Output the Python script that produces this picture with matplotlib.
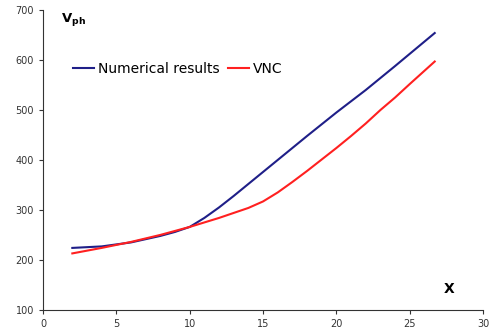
import matplotlib
matplotlib.use('Agg')
import matplotlib.pyplot as plt

# Numerical results
x_num = [2, 4, 6, 8, 9, 10, 11, 12, 13, 14, 16, 18, 20, 22, 24, 26.7]
y_num = [224, 227, 235, 248, 256, 266, 284, 305, 328, 352, 400, 448, 495, 540, 588, 654]

# VNC
x_vnc = [2, 4, 6, 8, 10, 12, 13, 14, 15, 16, 17, 18, 19, 20, 21, 22, 23, 24, 25, 26.7]
y_vnc = [213, 224, 236, 250, 266, 284, 294, 304, 317, 335, 356, 378, 401, 424, 448, 473, 500, 525, 552, 597]

fig = plt.figure(figsize=(4.94, 3.35), dpi=100)
ax = fig.add_axes([0.087, 0.075, 0.891, 0.895])

ax.plot(x_num, y_num, color='#1f1f88', lw=1.5, label='Numerical results')
ax.plot(x_vnc, y_vnc, color='#ff2020', lw=1.5, label='VNC')

ax.set_xlim(0, 30)
ax.set_ylim(100, 700)
ax.set_xticks(range(0, 31, 5))
ax.set_yticks(range(100, 701, 100))
ax.tick_params(labelsize=7, colors='#333333', length=3, width=0.8)
for s in ['top', 'right']:
    ax.spines[s].set_visible(False)
for s in ['left', 'bottom']:
    ax.spines[s].set_color('#333333')

ax.text(1.2, 682, r'$\mathbf{V}_{\mathbf{ph}}$', fontsize=9.5, va='center')
ax.text(27.3, 142, 'X', fontsize=10, fontweight='bold', va='center')

ax.legend(loc='center left', bbox_to_anchor=(0.04, 0.805), ncol=2, frameon=False,
          fontsize=10, handlelength=1.5, handletextpad=0.3, columnspacing=0.6)

fig.savefig('out.png', dpi=100)
